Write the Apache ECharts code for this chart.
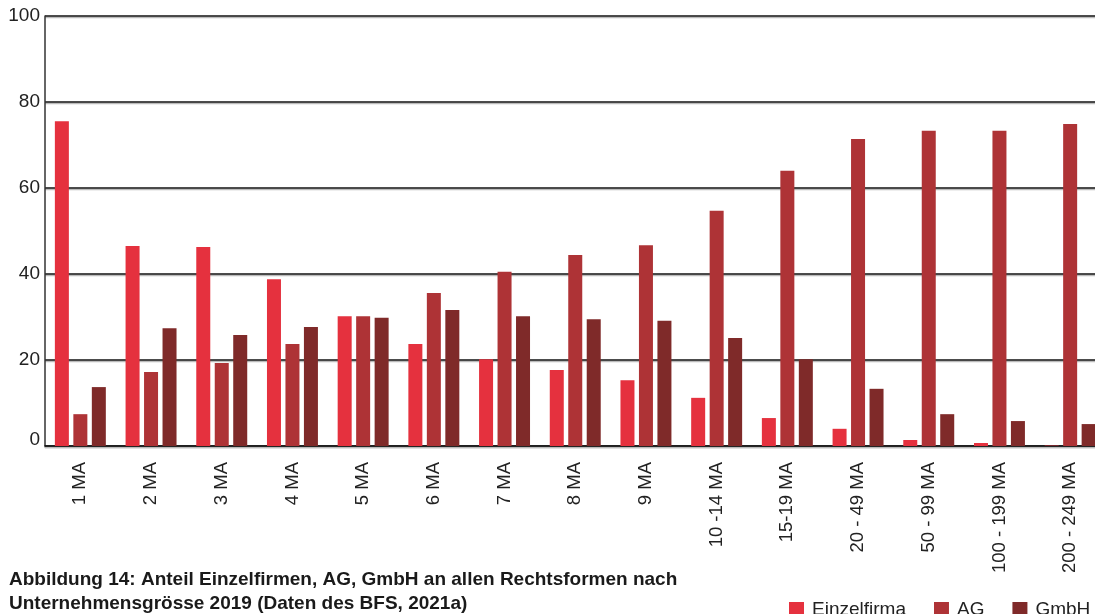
<!DOCTYPE html>
<html>
<head>
<meta charset="utf-8">
<script src="https://cdn.jsdelivr.net/npm/echarts@6/dist/echarts.min.js"></script>
<style>
  html, body { margin: 0; padding: 0; background: #fff; overflow: hidden; }
  #chart { width: 1110px; height: 614px; }
</style>
</head>
<body>
<div id="chart"></div>
<script>
const CATEGORIES = ['1 MA', '2 MA', '3 MA', '4 MA', '5 MA', '6 MA', '7 MA', '8 MA', '9 MA',
  '10 -14 MA', '15-19 MA', '20 - 49 MA', '50 - 99 MA', '100 - 199 MA', '200 - 249 MA']
const EINZELFIRMA = [75.5, 46.5, 46.3, 38.8, 30.2, 23.7, 20.2, 17.7, 15.3, 11.2, 6.5, 4.0, 1.4, 0.7, 0.1]
const AG = [7.4, 17.2, 19.3, 23.7, 30.2, 35.6, 40.5, 44.4, 46.7, 54.7, 64.0, 71.4, 73.3, 73.3, 74.9]
const GMBH = [13.7, 27.4, 25.8, 27.7, 29.8, 31.6, 30.2, 29.5, 29.1, 25.1, 20.2, 13.3, 7.4, 5.8, 5.1]
const Y_TICKS = [0, 20, 40, 60, 80, 100]

const FONT = '"Liberation Sans", Arial, sans-serif'
const COLORS = ['#E5313E', '#AE3336', '#7F2A29']

const chart = echarts.init(document.getElementById('chart'))

function barSeries(name, data) {
  return {
    name,
    type: 'bar',
    data,
    barWidth: 14,
    barGap: '32%',
    animation: false,
  }
}

chart.setOption({
  color: COLORS,
  textStyle: { fontFamily: FONT },
  title: {
    text: 'Abbildung 14: Anteil Einzelfirmen, AG, GmbH an allen Rechtsformen nach\nUnternehmensgrösse 2019 (Daten des BFS, 2021a)',
    left: 4,
    top: 563,
    textStyle: { fontFamily: FONT, fontSize: 19, fontWeight: 'bold', color: '#1a1a1a', lineHeight: 24 },
  },
  legend: {
    left: 784,
    top: 595,
    itemWidth: 15,
    itemHeight: 15,
    itemGap: 28,
    icon: 'rect',
    textStyle: { fontFamily: FONT, fontSize: 19, color: '#222', padding: [0, 0, 0, 3] },
    data: ['Einzelfirma', 'AG', 'GmbH'],
  },
  grid: { left: 45, right: 4.5, top: 16, bottom: 168, containLabel: false },
  xAxis: {
    type: 'category',
    data: CATEGORIES,
    axisLine: { lineStyle: { color: '#111', width: 1.5, shadowColor: '#bbb', shadowOffsetY: 1.5 } },
    axisTick: { show: false },
    axisLabel: {
      rotate: 90,
      interval: 0,
      margin: 16,
      fontFamily: FONT,
      fontSize: 18.5,
      color: '#222',
    },
  },
  yAxis: {
    type: 'value',
    min: Y_TICKS[0],
    max: Y_TICKS[Y_TICKS.length - 1],
    interval: 20,
    axisLine: { show: true, lineStyle: { color: '#333', width: 1.5 } },
    axisTick: { show: false },
    splitLine: { lineStyle: { color: '#111', width: 1.5, shadowColor: '#bbb', shadowOffsetY: 1.5 } },
    axisLabel: {
      margin: 5,
      fontFamily: FONT,
      fontSize: 19,
      color: '#222',
      formatter: (v) => (v === 0 ? '{z|0}' : String(v)),
      rich: { z: { fontFamily: FONT, fontSize: 19, color: '#222', padding: [0, 0, 12, 0] } },
    },
  },
  series: [
    barSeries('Einzelfirma', EINZELFIRMA),
    barSeries('AG', AG),
    barSeries('GmbH', GMBH),
  ],
})
</script>
</body>
</html>
